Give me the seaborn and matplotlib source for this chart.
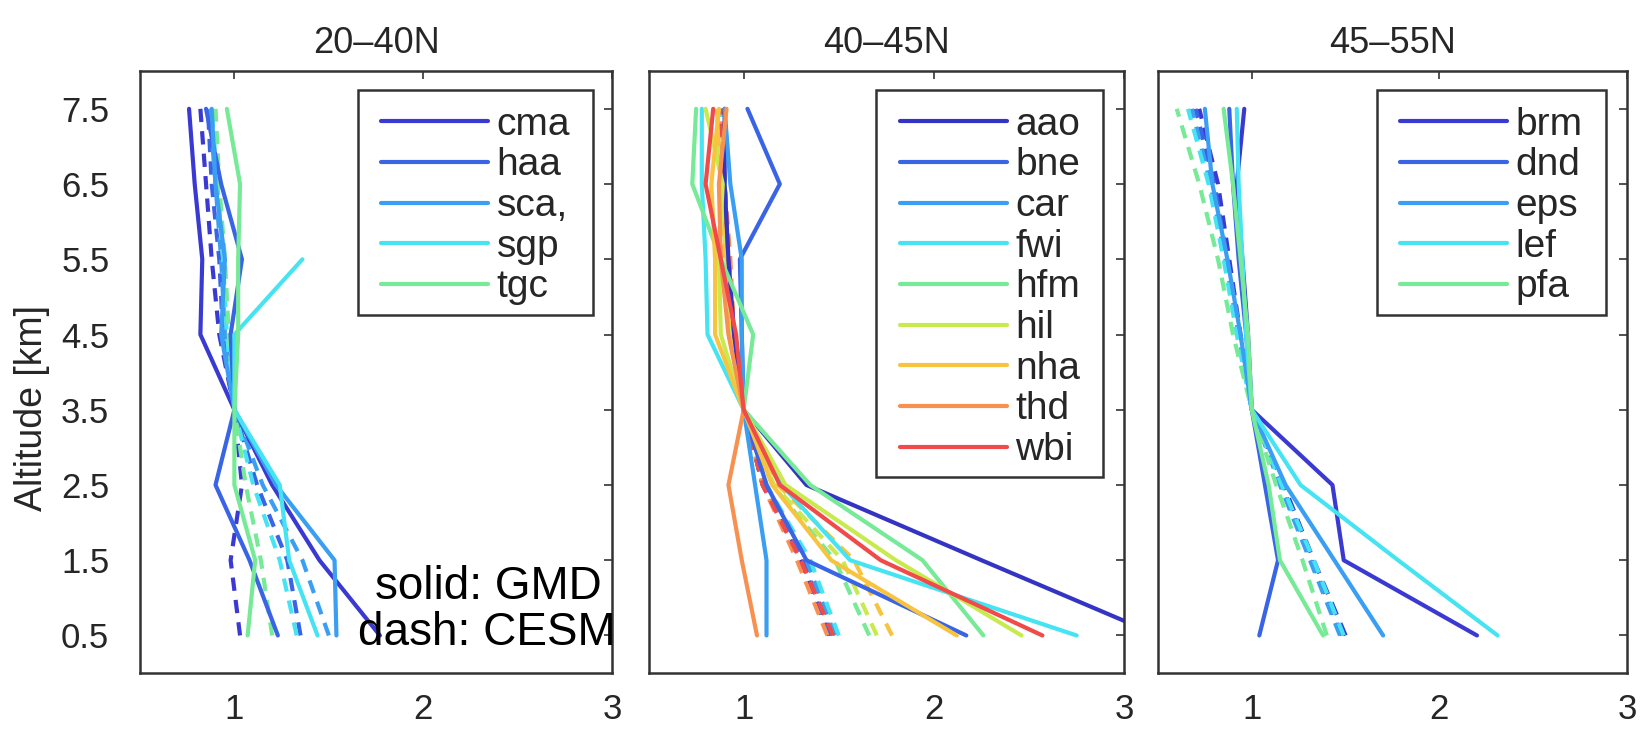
import matplotlib
matplotlib.use("Agg")
import matplotlib.pyplot as plt
from matplotlib.lines import Line2D
from matplotlib.patches import Rectangle
import numpy as np
import pandas as pd
import seaborn as sns

# ---------------- data ----------------
altitude = [0.5, 1.5, 2.5, 3.5, 4.5, 5.5, 6.5, 7.5]
panel_titles = ["20\u201340N", "40\u201345N", "45\u201355N"]
x_ticks = [1, 2, 3]
y_ticks = [0.5, 1.5, 2.5, 3.5, 4.5, 5.5, 6.5, 7.5]
nan = float("nan")

sites_20_40N = ["cma", "haa", "sca,", "sgp", "tgc"]
gmd_20_40N = {
    "cma":  [1.77, 1.45, 1.20, 1.00, 0.82, 0.83, 0.79, 0.76],
    "haa":  [1.23, 1.08, 0.90, 1.00, 0.98, 1.04, 0.93, 0.85],
    "sca,": [1.54, 1.53, 1.22, 1.00, 0.93, 0.95, 0.90, 0.88],
    "sgp":  [1.44, 1.29, 1.24, 1.00, 1.00, 1.36, nan, nan],
    "tgc":  [1.07, 1.11, 1.00, 1.00, 1.02, 1.02, 1.03, 0.96],
}
cesm_20_40N = {
    "cma":  [1.03, 0.98, 1.04, 1.00, 0.92, 0.88, 0.85, 0.82],
    "haa":  [1.35, 1.28, 1.12, 1.00, 0.94, 0.92, 0.88, 0.86],
    "sca,": [1.50, 1.36, 1.15, 1.00, 0.95, 0.93, 0.90, 0.87],
    "sgp":  [1.33, 1.24, 1.10, 1.00, 0.96, 0.94, 0.91, 0.88],
    "tgc":  [1.20, 1.14, 1.06, 1.00, 0.97, 0.95, 0.92, 0.90],
}

sites_40_45N = ["aao", "bne", "car", "fwi", "hfm", "hil", "nha", "thd", "wbi"]
gmd_40_45N = {
    "aao": [3.18, 2.25, 1.33, 1.00, 0.95, 0.92, 0.90, 0.90],
    "bne": [2.17, 1.33, 1.12, 1.00, 0.99, 0.98, 1.19, 1.02],
    "car": [1.12, 1.12, 1.06, 1.00, 0.99, 0.99, 0.93, 0.90],
    "fwi": [2.75, 1.56, 1.20, 1.00, 0.81, 0.80, 0.78, 0.78],
    "hfm": [2.26, 1.94, 1.35, 1.00, 1.05, 0.88, 0.73, 0.75],
    "hil": [2.46, 1.80, 1.22, 1.00, 0.88, 0.87, 0.89, 0.80],
    "nha": [2.12, 1.46, 1.15, 1.00, 0.85, 0.85, 0.83, 0.87],
    "thd": [1.07, 0.99, 0.92, 1.00, 0.92, 0.88, 0.87, 0.91],
    "wbi": [2.57, 1.72, 1.19, 1.00, 0.96, 0.88, 0.80, 0.84],
}
cesm_40_45N = {
    "aao": [1.45, 1.30, 1.10, 1.00, 0.95, 0.92, 0.90, 0.88],
    "bne": [1.46, 1.31, 1.10, 1.00, 0.95, 0.92, 0.90, 0.88],
    "car": [1.48, 1.33, 1.12, 1.00, 0.95, 0.92, 0.90, 0.88],
    "fwi": [1.50, 1.35, 1.12, 1.00, 0.95, 0.92, 0.90, 0.88],
    "hfm": [1.66, 1.48, 1.15, 1.00, 0.94, 0.91, 0.88, 0.86],
    "hil": [1.70, 1.52, 1.16, 1.00, 0.94, 0.91, 0.88, 0.86],
    "nha": [1.78, 1.58, 1.18, 1.00, 0.93, 0.90, 0.88, 0.86],
    "thd": [1.44, 1.28, 1.10, 1.00, 0.95, 0.93, 0.90, 0.88],
    "wbi": [1.47, 1.30, 1.10, 1.00, 0.95, 0.92, 0.90, 0.88],
}

sites_45_55N = ["brm", "dnd", "eps", "lef", "pfa"]
gmd_45_55N = {
    "brm": [2.20, 1.49, 1.43, 1.00, 0.98, 0.95, 0.92, 0.96],
    "dnd": [1.04, 1.14, 1.07, 1.00, 0.97, 0.93, 0.90, 0.88],
    "eps": [1.70, 1.44, 1.18, 1.00, 0.94, 0.87, 0.79, 0.75],
    "lef": [2.31, 1.78, 1.26, 1.00, 0.97, 0.95, 0.93, 0.92],
    "pfa": [1.38, 1.15, 1.09, 1.00, 0.98, 0.94, 0.90, 0.85],
}
cesm_45_55N = {
    "brm": [1.50, 1.33, 1.17, 1.00, 0.94, 0.88, 0.82, 0.72],
    "dnd": [1.48, 1.32, 1.16, 1.00, 0.93, 0.87, 0.80, 0.70],
    "eps": [1.47, 1.31, 1.15, 1.00, 0.93, 0.86, 0.78, 0.68],
    "lef": [1.49, 1.33, 1.16, 1.00, 0.92, 0.85, 0.77, 0.66],
    "pfa": [1.40, 1.27, 1.13, 1.00, 0.90, 0.82, 0.72, 0.60],
}

colors5 = ["#3a3ad2", "#3a64e6", "#3a9ef2", "#46e4f2", "#76ea96"]
colors9 = ["#3434c4", "#3a64e6", "#3a9ef2", "#46e4f2", "#76ea96",
           "#c8ea4e", "#f8c440", "#f89050", "#f04a4a"]

panels = [
    (sites_20_40N, gmd_20_40N, cesm_20_40N, colors5),
    (sites_40_45N, gmd_40_45N, cesm_40_45N, colors9),
    (sites_45_55N, gmd_45_55N, cesm_45_55N, colors5),
]


def to_long(sites, gmd, cesm):
    rows = []
    for src, d in (("CESM", cesm), ("GMD", gmd)):
        for s in sites:
            for a, v in zip(altitude, d[s]):
                if v == v:
                    rows.append({"site": s, "source": src, "altitude": a, "ratio": v})
    return pd.DataFrame(rows)


# ---------------- style ----------------
sns.set_theme(style="white")
plt.rcParams["font.family"] = ["Liberation Sans", "DejaVu Sans"]
text_col = "#262626"
frame_col = "#333333"
LW = 3.0
LEG_FS = 28
extra_px = 7.0      # extra horizontal padding of legend frame (pixels)
bottom_trim = 7.0   # trim of bottom padding of legend frame (pixels)

fig = plt.figure(figsize=(16.46, 7.34), dpi=100)
ax_pos = [(0.085, 0.083, 0.287, 0.820),
          (0.394, 0.083, 0.289, 0.820),
          (0.7035, 0.083, 0.285, 0.820)]
legend_right = [0.96, 0.956, 0.955]

axes = []
legends = []
for i, (sites, gmd, cesm, cols) in enumerate(panels):
    ax = fig.add_axes(ax_pos[i])
    axes.append(ax)
    df = to_long(sites, gmd, cesm)
    pal = dict(zip(sites, cols))
    for src, dash in (("CESM", (3.2, 2.2)), ("GMD", "")):
        sub = df[df["source"] == src]
        sns.lineplot(data=sub, x="ratio", y="altitude", hue="site",
                     style="source", dashes={src: dash}, palette=pal,
                     hue_order=sites, estimator=None, sort=False,
                     orient="y", linewidth=LW, legend=False, ax=ax)
    ax.set_xlim(0.5, 3)
    ax.set_ylim(0, 8)
    ax.set_xticks(x_ticks)
    ax.set_yticks(y_ticks)
    ax.set_xlabel("")
    if i == 0:
        ax.set_yticklabels([f"{v:.1f}" for v in y_ticks])
        ax.set_ylabel("Altitude [km]", fontsize=27, color=text_col)
        ax.yaxis.set_label_coords(-0.19, 0.44)
    else:
        ax.set_yticklabels([])
        ax.set_ylabel("")
    ax.tick_params(axis="both", direction="in", top=True, right=True,
                   length=6, width=1.2, color=frame_col,
                   labelsize=25, labelcolor=text_col)
    ax.tick_params(axis="x", pad=14)
    ax.tick_params(axis="y", pad=22)
    for sp in ax.spines.values():
        sp.set_color(frame_col)
        sp.set_linewidth(1.8)
    ax.set_title(panel_titles[i], fontsize=26, color=text_col, pad=13)

    ax_w_px = ax_pos[i][2] * 1646
    handles = [Line2D([], [], color=c, lw=LW) for c in cols]
    leg = ax.legend(handles, sites, loc="upper right",
                    bbox_to_anchor=(legend_right[i] - extra_px / ax_w_px, 0.968),
                    borderaxespad=0, fontsize=LEG_FS, handlelength=2.75,
                    handletextpad=0.22, borderpad=0.42, labelspacing=0.12,
                    frameon=False)
    for t in leg.get_texts():
        t.set_color(text_col)
    legends.append(leg)

fig.text(0.297, 0.200, "solid: GMD", fontsize=33, color="black",
         ha="center", va="center")
fig.text(0.296, 0.138, "dash: CESM", fontsize=33, color="black",
         ha="center", va="center")

# draw legend frames (wider horizontal padding than vertical)
fig.canvas.draw()
for ax, leg in zip(axes, legends):
    bb = leg.get_window_extent()
    inv = ax.transAxes.inverted()
    (x0, y0), (x1, y1) = inv.transform([(bb.x0 - extra_px, bb.y0 + bottom_trim),
                                        (bb.x1 + extra_px, bb.y1)])
    ax.add_patch(Rectangle((x0, y0), x1 - x0, y1 - y0, transform=ax.transAxes,
                           facecolor="white", edgecolor=frame_col,
                           linewidth=1.8, zorder=4.9))

fig.savefig("out.png", dpi=100)
